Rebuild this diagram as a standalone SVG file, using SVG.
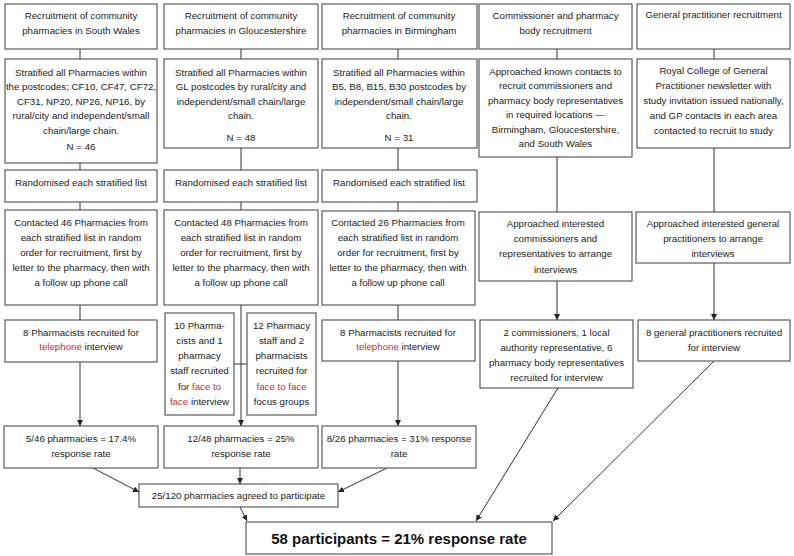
<svg xmlns="http://www.w3.org/2000/svg" width="794" height="556" viewBox="0 0 794 556">
<defs>
<style>
.b{fill:#fff;stroke:#4d4d4d;stroke-width:1.1}
.t{font-family:"Liberation Sans",Arial,sans-serif;font-size:9.7px;fill:#222;text-anchor:middle}
.r{fill:#b8312f}
.c{stroke:#333;stroke-width:1;fill:none}
.a{marker-end:url(#ah)}
.big{font-family:"Liberation Sans",Arial,sans-serif;font-size:15px;font-weight:bold;fill:#111;text-anchor:middle}
</style>
<marker id="ah" viewBox="0 0 6 6" refX="6" refY="3" markerWidth="6" markerHeight="6" orient="auto" markerUnits="userSpaceOnUse"><path d="M0,0 L6,3 L0,6 z" fill="#222"/></marker>
</defs>
<rect width="794" height="556" fill="#fff"/>

<g id="connectors">
<path class="c" d="M80,49V59M80,163V170M80,202V210M80,305V320"/>
<path class="c a" d="M80,362V426"/>
<path class="c" d="M241,49V59M241,148V170M241,202V210M234,364H247"/>
<path class="c a" d="M241,305V426"/>
<path class="c" d="M398,49V59M398,148V170M398,202V211M398,305V320"/>
<path class="c a" d="M398,361V426"/>
<path class="c" d="M557,49V59M557,157V212"/>
<path class="c a" d="M557,281V320"/>
<path class="c" d="M714,49V59M714,148V212"/>
<path class="c a" d="M714,263V320"/>
<path class="c a" d="M93,468L139,492"/>
<path class="c a" d="M240,468V484"/>
<path class="c a" d="M387,468L338,492"/>
<path class="c a" d="M240,507L247,521"/>
<path class="c a" d="M558,388L476,521"/>
<path class="c a" d="M714,361L553,521"/>
</g>

<g id="sw-title"><rect class="b" x="5" y="4" width="152" height="45"/>
<text class="t" x="81" y="19">Recruitment of community</text><text class="t" x="81" y="34">pharmacies in South Wales</text></g>
<g id="sw-strat"><rect class="b" x="5" y="59" width="152" height="104"/>
<text class="t" x="81" y="75.5">Stratified all Pharmacies within</text>
<text class="t" x="81" y="90">the postcodes; CF10, CF47, CF72,</text>
<text class="t" x="81" y="104.5">CF31, NP20, NP26, NP16, by</text>
<text class="t" x="81" y="119">rural/city and independent/small</text>
<text class="t" x="81" y="133.5">chain/large chain.</text>
<text class="t" x="81" y="150">N = 46</text></g>
<g id="sw-rand"><rect class="b" x="5" y="170" width="152" height="32"/>
<text class="t" x="81" y="185.5">Randomised each stratified list</text></g>
<g id="sw-contact"><rect class="b" x="5" y="210" width="152" height="95"/>
<text class="t" x="81" y="226">Contacted 46 Pharmacies from</text>
<text class="t" x="81" y="241">each stratified list in random</text>
<text class="t" x="81" y="256">order for recruitment, first by</text>
<text class="t" x="81" y="271">letter to the pharmacy, then with</text>
<text class="t" x="81" y="286">a follow up phone call</text></g>
<g id="sw-recruited"><rect class="b" x="5" y="320" width="152" height="42"/>
<text class="t" x="81" y="335.5">8 Pharmacists recruited for</text>
<text class="t" x="81" y="350"><tspan class="r">telephone</tspan> interview</text></g>
<g id="sw-rate"><rect class="b" x="4" y="426" width="154" height="42"/>
<text class="t" x="81" y="441.5">5/46 pharmacies = 17.4%</text>
<text class="t" x="81" y="456.5">response rate</text></g>

<g id="gl-title"><rect class="b" x="164" y="4" width="154" height="45"/>
<text class="t" x="241" y="19">Recruitment of community</text><text class="t" x="241" y="34">pharmacies in Gloucestershire</text></g>
<g id="gl-strat"><rect class="b" x="164" y="59" width="154" height="89"/>
<text class="t" x="241" y="75.5">Stratified all Pharmacies within</text>
<text class="t" x="241" y="90">GL postcodes by rural/city and</text>
<text class="t" x="241" y="104.5">independent/small chain/large</text>
<text class="t" x="241" y="119">chain.</text>
<text class="t" x="241" y="140.5">N = 48</text></g>
<g id="gl-rand"><rect class="b" x="164" y="170" width="154" height="32"/>
<text class="t" x="241" y="185.5">Randomised each stratified list</text></g>
<g id="gl-contact"><rect class="b" x="164" y="210" width="154" height="95"/>
<text class="t" x="241" y="226">Contacted 48 Pharmacies from</text>
<text class="t" x="241" y="241">each stratified list in random</text>
<text class="t" x="241" y="256">order for recruitment, first by</text>
<text class="t" x="241" y="271">letter to the pharmacy, then with</text>
<text class="t" x="241" y="286">a follow up phone call</text></g>
<g id="gl-interview"><rect class="b" x="165" y="313" width="69" height="102"/>
<text class="t" x="199.5" y="328.5">10 Pharma-</text>
<text class="t" x="199.5" y="343.5">cists and 1</text>
<text class="t" x="199.5" y="358.5">pharmacy</text>
<text class="t" x="199.5" y="373.5">staff recruited</text>
<text class="t" x="199.5" y="389.5">for <tspan class="r">face to</tspan></text>
<text class="t" x="199.5" y="404.5"><tspan class="r">face</tspan> interview</text></g>
<g id="gl-focus"><rect class="b" x="247" y="313" width="69" height="102"/>
<text class="t" x="281.5" y="328.5">12 Pharmacy</text>
<text class="t" x="281.5" y="343.5">staff and 2</text>
<text class="t" x="281.5" y="358.5">pharmacists</text>
<text class="t" x="281.5" y="373.5">recruited for</text>
<text class="t" x="281.5" y="389.5"><tspan class="r">face to face</tspan></text>
<text class="t" x="281.5" y="404.5">focus groups</text></g>
<g id="gl-rate"><rect class="b" x="164" y="426" width="154" height="42"/>
<text class="t" x="241" y="441.5">12/48 pharmacies = 25%</text>
<text class="t" x="241" y="456.5">response rate</text></g>

<g id="bm-title"><rect class="b" x="322" y="4" width="155" height="45"/>
<text class="t" x="399" y="19">Recruitment of community</text><text class="t" x="399" y="34">pharmacies in Birmingham</text></g>
<g id="bm-strat"><rect class="b" x="322" y="59" width="155" height="89"/>
<text class="t" x="399" y="75.5">Stratified all Pharmacies within</text>
<text class="t" x="399" y="90">B5, B8, B15, B30 postcodes by</text>
<text class="t" x="399" y="104.5">independent/small chain/large</text>
<text class="t" x="399" y="119">chain.</text>
<text class="t" x="399" y="140.5">N = 31</text></g>
<g id="bm-rand"><rect class="b" x="322" y="170" width="155" height="32"/>
<text class="t" x="399" y="185.5">Randomised each stratified list</text></g>
<g id="bm-contact"><rect class="b" x="322" y="211" width="153" height="94"/>
<text class="t" x="398" y="226">Contacted 26 Pharmacies from</text>
<text class="t" x="398" y="241">each stratified list in random</text>
<text class="t" x="398" y="256">order for recruitment, first by</text>
<text class="t" x="398" y="271">letter to the pharmacy, then with</text>
<text class="t" x="398" y="286">a follow up phone call</text></g>
<g id="bm-recruited"><rect class="b" x="322" y="320" width="153" height="41"/>
<text class="t" x="398" y="335.5">8 Pharmacists recruited for</text>
<text class="t" x="398" y="350"><tspan class="r">telephone</tspan> interview</text></g>
<g id="bm-rate"><rect class="b" x="322" y="426" width="154" height="42"/>
<text class="t" x="399" y="441.5">8/26 pharmacies = 31% response</text>
<text class="t" x="399" y="456.5">rate</text></g>

<g id="cm-title"><rect class="b" x="479" y="4" width="153" height="45"/>
<text class="t" x="555.5" y="19">Commissioner and pharmacy</text><text class="t" x="555.5" y="34">body recruitment</text></g>
<g id="cm-approach"><rect class="b" x="479" y="59" width="153" height="98"/>
<text class="t" x="555.5" y="74.5">Approached known contacts to</text>
<text class="t" x="555.5" y="89">recruit commissioners and</text>
<text class="t" x="555.5" y="103.5">pharmacy body representatives</text>
<text class="t" x="555.5" y="118">in required locations —</text>
<text class="t" x="555.5" y="132.5">Birmingham, Gloucestershire,</text>
<text class="t" x="555.5" y="147">and South Wales</text></g>
<g id="cm-interested"><rect class="b" x="479" y="212" width="153" height="69"/>
<text class="t" x="555.5" y="226.5">Approached interested</text>
<text class="t" x="555.5" y="241.5">commissioners and</text>
<text class="t" x="555.5" y="257">representatives to arrange</text>
<text class="t" x="555.5" y="272.5">interviews</text></g>
<g id="cm-recruited"><rect class="b" x="480" y="320" width="153" height="68"/>
<text class="t" x="556.5" y="335.5">2 commissioners, 1 local</text>
<text class="t" x="556.5" y="350.5">authority representative, 6</text>
<text class="t" x="556.5" y="365.5">pharmacy body representatives</text>
<text class="t" x="556.5" y="380.5">recruited for interview</text></g>

<g id="gp-title"><rect class="b" x="637" y="4" width="153" height="45"/>
<text class="t" x="713.5" y="18">General practitioner recruitment</text></g>
<g id="gp-approach"><rect class="b" x="637" y="59" width="153" height="89"/>
<text class="t" x="713.5" y="74">Royal College of General</text>
<text class="t" x="713.5" y="89">Practitioner newsletter with</text>
<text class="t" x="713.5" y="104">study invitation issued nationally,</text>
<text class="t" x="713.5" y="118.5">and GP contacts in each area</text>
<text class="t" x="713.5" y="133.5">contacted to recruit to study</text></g>
<g id="gp-interested"><rect class="b" x="636" y="212" width="154" height="51"/>
<text class="t" x="713" y="226.5">Approached interested general</text>
<text class="t" x="713" y="241.5">practitioners to arrange</text>
<text class="t" x="713" y="257">interviews</text></g>
<g id="gp-recruited"><rect class="b" x="638" y="320" width="152" height="41"/>
<text class="t" x="714" y="335.5">8 general practitioners recruited</text>
<text class="t" x="714" y="350.5">for interview</text></g>

<g id="agreed"><rect class="b" x="139" y="484" width="199" height="23"/>
<text class="t" x="238.5" y="499">25/120 pharmacies agreed to participate</text></g>
<g id="total"><rect class="b" x="246" y="522" width="306" height="32"/>
<text class="big" x="399" y="544">58 participants = 21% response rate</text></g>
</svg>
